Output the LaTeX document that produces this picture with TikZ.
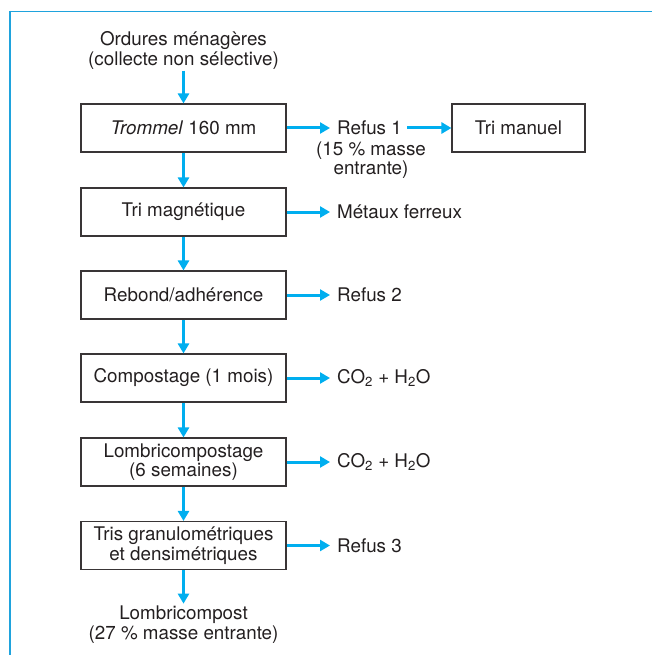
\documentclass[tikz,border=0pt]{standalone}
\usepackage{fontspec}
\setmainfont{TeX Gyre Heros}
\usetikzlibrary{arrows.meta}
\definecolor{flow}{HTML}{00AEEF}
\definecolor{framecol}{HTML}{1FA3DD}
\definecolor{ink}{HTML}{231F20}
\begin{document}
\begin{tikzpicture}[x=1pt,y=-1pt,
  every node/.style={font=\fontsize{18.8}{19.6}\selectfont, text=ink},
  stage/.style={draw=ink!90, line width=1.1pt, minimum width=205pt,
    minimum height=48pt, align=center, inner sep=0pt},
  sidebox/.style={stage, minimum width=133pt},
  plain/.style={align=center, inner sep=0pt},
  outlabel/.style={anchor=west, inner sep=0pt},
  flowarrow/.style={draw=flow, line width=3pt,
    -{Triangle[length=10pt,width=11pt]}},
]
\useasboundingbox (0,0) rectangle (652,655);

% frame along the top and left edges
\draw[framecol, line width=1.2pt] (9.4,11.5) -- (652,11.5);
\draw[framecol, line width=1.2pt] (10,10.9) -- (10,655);

% main column
\node[plain] (src) at (183.5,50.5) {Ordures ménagères\\(collecte non sélective)};
\node[stage] (s1) at (183.5,128) {\textit{Trommel} 160 mm};
\node[stage] (s2) at (183.5,212) {Tri magnétique};
\node[stage] (s3) at (183.5,295) {Rebond/adhérence};
\node[stage] (s4) at (183.5,378) {Compostage (1 mois)};
\node[stage] (s5) at (183.5,462) {Lombricompostage\\(6 semaines)};
\node[stage] (s6) at (183.5,545.5) {Tris granulométriques\\et densimétriques};
\node[plain] (out) at (183.5,624.5) {Lombricompost\\(27 \% masse entrante)};

% outputs on the right
\node[outlabel] (r1) at (337,128) {Refus 1};
\node[plain] (r1b) at (371,160) {(15 \% masse\\entrante)};
\node[sidebox] (tri) at (518.5,128) {Tri manuel};
\node[outlabel] (r2) at (337,212) {Métaux ferreux};
\node[outlabel] (r3) at (337,295) {Refus 2};
\node[outlabel] (r4) at (337,378) {CO\textsubscript{2} + H\textsubscript{2}O};
\node[outlabel] (r5) at (337,462) {CO\textsubscript{2} + H\textsubscript{2}O};
\node[outlabel] (r6) at (337,545.5) {Refus 3};

% vertical flow
\draw[flowarrow, shorten <=1pt] (src.south) -- (s1.north);
\foreach \a/\b in {s1/s2,s2/s3,s3/s4,s4/s5,s5/s6}
  \draw[flowarrow] (\a.south) -- (\b.north);
\draw[flowarrow, shorten >=2pt] (s6.south) -- (out.north);

% side flows, kept horizontal
\foreach \a/\b in {s1/r1,s2/r2,s3/r3,s4/r4,s5/r5,s6/r6}
  \draw[flowarrow, shorten >=7pt] (\a.east) -- (\a.east -| \b.west);
\draw[flowarrow, shorten <=5pt] (r1.east) -- (r1.east -| tri.west);
\end{tikzpicture}
\end{document}
